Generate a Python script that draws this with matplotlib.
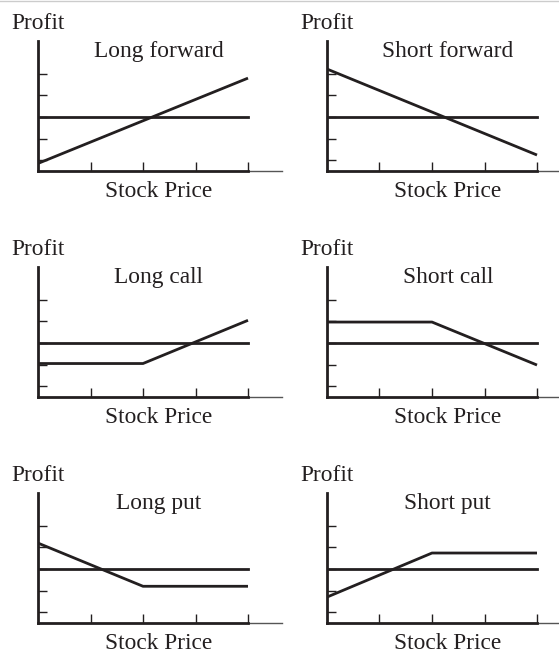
""" payoff diagrams for forwards and options """
import matplotlib
matplotlib.use("Agg")
import matplotlib.pyplot as plt
from matplotlib.lines import Line2D

# stock price breakpoints (tick units) and profit values (0 = breakeven line)
titles = ["Long forward", "Short forward", "Long call", "Short call", "Long put", "Short put"]
fwd_price = [0, 4]
opt_price = [0, 2, 4]
long_forward = [-2.15, 1.8]
short_forward = [2.22, -1.76]
long_call = [-0.95, -0.95, 1.05]
short_call = [0.97, 0.97, -1.02]
long_put = [1.2, -0.8, -0.8]
short_put = [-1.3, 0.74, 0.74]

x_ticks = [1, 2, 3, 4]
y_ticks = [-2, -1, 0, 1, 2]

INK = "#231f20"
FONT = "Liberation Serif"
FS = 16.8

W, H = 559, 653
X_UNIT, Y_UNIT = 52.5, 21.6  # pixels per tick step


def draw_panel(ax, title, prices, profit):
    """one payoff diagram"""
    ax.set_xlim(0, 4.65)
    ax.set_ylim(-2.5, 3.5)
    for side in ["top", "right"]:
        ax.spines[side].set_visible(False)
    for side in ["left", "bottom"]:
        ax.spines[side].set_linewidth(2.0)
        ax.spines[side].set_color(INK)
    ax.spines["bottom"].set_bounds(0, 4)
    ax.set_xticks(x_ticks)
    ax.set_yticks(y_ticks)
    ax.tick_params(direction="in", length=6.5, width=1.0, color=INK,
                   labelbottom=False, labelleft=False)
    # thin continuation of the x axis
    ax.plot([4, 4.65], [-2.5, -2.5], color="#555555", lw=1.0, clip_on=False)
    ax.axhline(0, xmin=0, xmax=4 / 4.65, color=INK, lw=2.0)
    ax.plot(prices, profit, color=INK, lw=2.0, solid_capstyle="butt")
    ax.text(-0.5, 4.07, "Profit", fontsize=FS, family=FONT, color=INK,
            ha="left", va="baseline", clip_on=False)
    ax.text(2.3, 2.8, title, fontsize=FS, family=FONT, color=INK,
            ha="center", va="baseline")
    ax.text(2.3, -3.47, "Stock Price", fontsize=FS, family=FONT, color=INK,
            ha="center", va="center", clip_on=False)


def main():
    """ main """
    fig = plt.figure(figsize=(W / 100, H / 100), dpi=100)
    fig.add_artist(Line2D([0, 1], [1 - 0.6 / H, 1 - 0.6 / H], color="#cccccc", lw=1.0))

    series = [(fwd_price, long_forward), (fwd_price, short_forward),
              (opt_price, long_call), (opt_price, short_call),
              (opt_price, long_put), (opt_price, short_put)]
    lefts = [38, 327]
    bottoms = [171, 397, 623]
    for i, (title, (prices, profit)) in enumerate(zip(titles, series)):
        left = lefts[i % 2]
        bottom = bottoms[i // 2]
        ax = fig.add_axes([left / W, 1 - bottom / H, 4.65 * X_UNIT / W, 6 * Y_UNIT / H])
        ax.patch.set_visible(False)
        draw_panel(ax, title, prices, profit)

    fig.savefig("out.png", dpi=100)


if __name__ == "__main__":
    main()
